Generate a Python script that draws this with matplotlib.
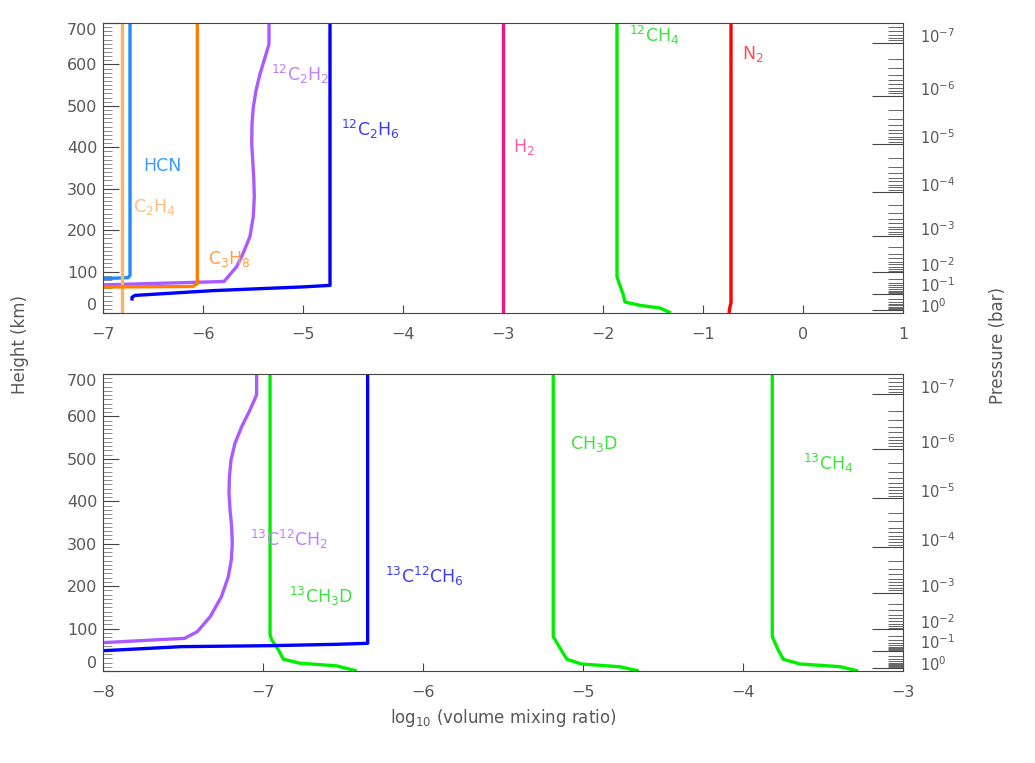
import numpy as np
import matplotlib
matplotlib.use("Agg")
import matplotlib.pyplot as plt
import matplotlib.transforms as mtransforms

# ---------------- data ----------------
# pressure (log10 bar) <-> height (km) relation used for the right axis
P_LOG10 = [-8, -7, -6, -5, -4, -3, -2, -1, 0, 1]
P_HEIGHT = [780, 652, 524, 408, 292, 185, 98, 46, 7, -60]

# top panel profiles: height (km) and log10 VMR
N2_H = [0, 15, 25, 700]
N2_X = [-0.74, -0.73, -0.72, -0.72]
CH4_H = [0, 12, 18.5, 26.5, 46, 87, 700]
CH4_X = [-1.32, -1.43, -1.63, -1.78, -1.80, -1.86, -1.86]
H2_H = [0, 700]
H2_X = [-3.0, -3.0]
C2H6_H = [30, 38, 42.5, 54, 63, 66.7, 700]
C2H6_X = [-6.71, -6.71, -6.68, -5.9, -5.0, -4.73, -4.73]
C2H2_H = [66, 68, 76, 112, 145, 185, 233, 281, 329, 369, 409, 457, 497, 537,
          577, 617, 649, 700]
C2H2_X = [-7.6, -6.98, -5.79, -5.663, -5.597, -5.53, -5.497, -5.487, -5.493,
          -5.503, -5.513, -5.51, -5.497, -5.47, -5.43, -5.38, -5.34, -5.34]
HCN_H = [82, 83, 85.3, 90.8, 700]
HCN_X = [-7.5, -7.0, -6.75, -6.73, -6.73]
C2H4_H = [0, 700]
C2H4_X = [-6.81, -6.81]
C3H8_H = [61, 62.7, 64, 70.8, 700]
C3H8_X = [-7.5, -7.0, -6.1, -6.057, -6.057]

# bottom panel profiles
C13C12H2_H = [64, 67, 71, 77, 93, 128, 175, 222, 262, 301, 340, 380, 419, 458,
              497, 537, 576, 615.6, 651, 700]
C13C12H2_X = [-8.2, -7.99, -7.79, -7.49, -7.41, -7.33, -7.26, -7.217, -7.198,
              -7.192, -7.196, -7.206, -7.2125, -7.21, -7.2, -7.175, -7.133,
              -7.081, -7.04, -7.04]
C13CH3D_H = [0, 12.1, 18.4, 27.8, 50, 73.5, 85, 700]
C13CH3D_X = [-6.414, -6.54, -6.77, -6.873, -6.904, -6.946, -6.956, -6.956]
C13C12H6_H = [46, 48, 57.4, 59.7, 62.9, 65.3, 700]
C13C12H6_X = [-8.1, -7.99, -7.51, -6.956, -6.54, -6.346, -6.346]
CH3D_H = [0, 10, 16.5, 27.5, 45.5, 81, 700]
CH3D_X = [-4.65, -4.77, -5.01, -5.10, -5.13, -5.186, -5.186]
C13H4_H = [0, 10.2, 16.5, 27.6, 49.5, 81, 700]
C13H4_X = [-3.28, -3.394, -3.644, -3.748, -3.78, -3.817, -3.817]

TOP_SERIES = [
    (N2_X, N2_H, "#FF0000", r"N$_2$", -0.61, 625, "#FF5050"),
    (CH4_X, CH4_H, "#00EE00", r"$^{12}$CH$_4$", -1.74, 669, "#40E040"),
    (H2_X, H2_H, "#F0148C", r"H$_2$", -2.90, 400, "#FF5AAA"),
    (C2H6_X, C2H6_H, "#0000FF", r"$^{12}$C$_2$H$_6$", -4.62, 444, "#3C3CFF"),
    (C2H2_X, C2H2_H, "#AA5AFF", r"$^{12}$C$_2$H$_2$", -5.32, 577, "#BE80FF"),
    (HCN_X, HCN_H, "#1E8CFF", "HCN", -6.60, 356, "#3C9CFF"),
    (C2H4_X, C2H4_H, "#FFB266", r"C$_2$H$_4$", -6.70, 255, "#FFBE80"),
    (C3H8_X, C3H8_H, "#FF8000", r"C$_3$H$_8$", -5.95, 131, "#FFA040"),
]
BOTTOM_SERIES = [
    (C13C12H2_X, C13C12H2_H, "#AA5AFF", r"$^{13}$C$^{12}$CH$_2$", -7.08, 309, "#BE80FF"),
    (C13CH3D_X, C13CH3D_H, "#00EE00", r"$^{13}$CH$_3$D", -6.84, 175, "#40E040"),
    (C13C12H6_X, C13C12H6_H, "#0000FF", r"$^{13}$C$^{12}$CH$_6$", -6.24, 222, "#3C3CFF"),
    (CH3D_X, CH3D_H, "#00EE00", r"CH$_3$D", -5.08, 535, "#40E040"),
    (C13H4_X, C13H4_H, "#00EE00", r"$^{13}$CH$_4$", -3.625, 488, "#40E040"),
]
TOP_XLIM = (-7, 1)
BOTTOM_XLIM = (-8, -3)
HEIGHT_TICKS = [0, 100, 200, 300, 400, 500, 600, 700]
PRESSURE_DECADES = [0, -1, -2, -3, -4, -5, -6, -7]

# ---------------- style ----------------
TXT = "#585858"
SPINE = "#444444"
plt.rcParams["font.family"] = ["DejaVu Sans"]
plt.rcParams["mathtext.fontset"] = "dejavusans"

fig = plt.figure(figsize=(10.35, 7.63), dpi=100)
ax_top = fig.add_axes([103 / 1035, 1 - 313 / 763, 800 / 1035, 290 / 763])
ax_bot = fig.add_axes([103 / 1035, 1 - 671 / 763, 800 / 1035, 297 / 763])

p_log_inc = np.array(P_LOG10, dtype=float)
p_h_inc = np.array(P_HEIGHT, dtype=float)


def h_of_logp(lp):
    return np.interp(lp, p_log_inc, p_h_inc)


def setup(ax, xlim, series):
    for xs, hs, col, lab, lx, ly, lcol in series:
        ax.plot(xs, hs, color=col, lw=2.4, solid_capstyle="butt", clip_on=True)
        ax.text(lx, ly, lab, color=lcol, fontsize=12.5, ha="left", va="center")
    ax.set_xlim(*xlim)
    ax.set_ylim(0, 700)
    ax.set_xticks(np.arange(xlim[0], xlim[1] + 1))
    ax.set_xticklabels([f"{v:d}".replace("-", "\u2212") for v in np.arange(xlim[0], xlim[1] + 1)])
    ax.set_yticks(HEIGHT_TICKS)
    ax.set_yticks(np.arange(0, 701, 10), minor=True)
    ax.tick_params(axis="x", which="both", direction="in", length=6, width=0.8,
                   color=SPINE, labelcolor=TXT, labelsize=11.5, pad=10,
                   top=False, bottom=True)
    ax.tick_params(axis="y", which="major", direction="in", length=11.5, width=0.8,
                   color=SPINE, labelcolor=TXT, labelsize=11.5, pad=4,
                   left=True, right=False)
    ax.tick_params(axis="y", which="minor", direction="in", length=6.5, width=0.6,
                   color="#777777", left=True, right=False)
    for s in ax.spines.values():
        s.set_color(SPINE)
        s.set_linewidth(0.8)
    labs = ax.get_yticklabels()
    labs[0].set_va("bottom")
    labs[-1].set_va("top")

    # right pressure axis
    ax2 = ax.twinx()
    ax2.set_ylim(0, 700)
    maj_h = h_of_logp(np.array(PRESSURE_DECADES, dtype=float))
    ax2.set_yticks(maj_h)
    ax2.set_yticklabels([rf"$10^{{{d}}}$" for d in PRESSURE_DECADES])
    minors = []
    for d in range(-8, 1):
        for m in range(2, 10):
            hh = float(h_of_logp(np.log10(m) + d))
            if 0 <= hh <= 700:
                minors.append(hh)
    ax2.set_yticks(minors, minor=True)
    ax2.set_ylim(0, 700)
    ax2.tick_params(axis="y", which="major", direction="in", length=22, width=0.8,
                    color=SPINE, labelcolor=TXT, labelsize=10.5, pad=12)
    ax2.tick_params(axis="y", which="minor", direction="in", length=11, width=0.7,
                    color="#666666")
    rlabs = ax2.get_yticklabels()
    for lab in rlabs:
        lab.set_va("baseline")
    # nudge the two crowded labels near the surface apart
    rlabs[0].set_transform(rlabs[0].get_transform() +
                           mtransforms.ScaledTranslation(0, -3 / 100, fig.dpi_scale_trans))
    rlabs[1].set_transform(rlabs[1].get_transform() +
                           mtransforms.ScaledTranslation(0, 2 / 100, fig.dpi_scale_trans))
    for s in ax2.spines.values():
        s.set_visible(False)
    return ax2


setup(ax_top, TOP_XLIM, TOP_SERIES)
setup(ax_bot, BOTTOM_XLIM, BOTTOM_SERIES)

fig.text(20 / 1035, 1 - 345 / 763, "Height (km)", rotation=90, ha="center",
         va="center", fontsize=12, color=TXT)
fig.text(998 / 1035, 1 - 345 / 763, "Pressure (bar)", rotation=90, ha="center",
         va="center", fontsize=12, color=TXT)
fig.text(503 / 1035, 1 - 718 / 763, r"log$_{10}$ (volume mixing ratio)", ha="center",
         va="center", fontsize=12, color=TXT)

fig.savefig("out.png", dpi=100)
